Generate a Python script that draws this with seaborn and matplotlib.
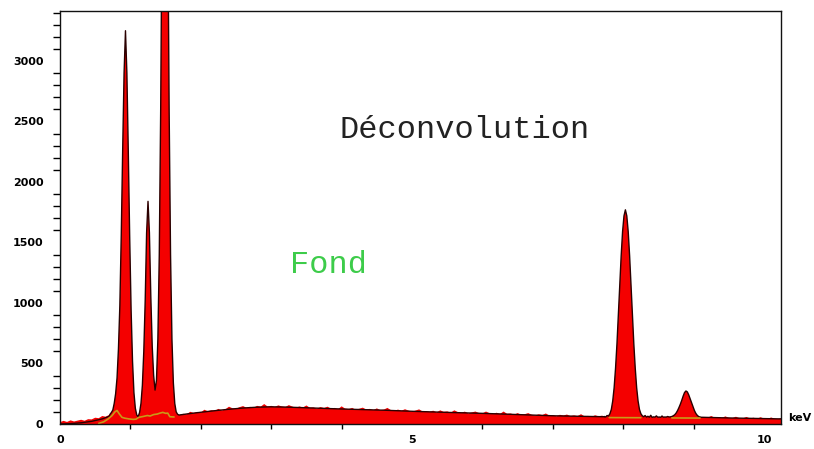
import numpy as np
import matplotlib
matplotlib.use("Agg")
import matplotlib.pyplot as plt
from matplotlib.ticker import MultipleLocator, FixedLocator
import seaborn as sns

# ---------------------------------------------------------------------------
# EDS spectrum (counts per channel), split into channel blocks
# ---------------------------------------------------------------------------
# 0.00 - 0.70 keV, 0.05 keV channels
low_start, low_step = 0.00, 0.05
low_counts = [15, 26, 17, 30, 21, 28, 35, 27, 40, 38, 52, 48, 66, 60, 76]

# 0.71 - 1.69 keV, 0.02 keV channels (O/Cu-L, Mg-K, Al-K lines)
light_start, light_step = 0.71, 0.02
light_counts = [80, 95, 115, 170, 250, 380, 620, 980, 1560, 2260, 2900, 3250,
                2900, 2250, 1540, 940, 520, 260, 130, 75, 60, 95, 170, 320,
                600, 1020, 1580, 1840, 1580, 1050, 640, 400, 280, 360, 700,
                1400, 2600, 4300, 6600, 8000, 6600, 4300, 2600, 1400, 700, 340,
                170, 100, 80, 74]

# 1.75 - 7.70 keV, 0.05 keV channels (bremsstrahlung continuum)
mid_start, mid_step = 1.75, 0.05
mid_counts = [84, 81, 101, 91, 100, 94, 118, 106, 114, 110,
              125, 112, 122, 143, 130, 126, 139, 148, 134, 142,
              134, 150, 143, 165, 144, 150, 140, 154, 145, 140,
              156, 144, 134, 145, 137, 153, 134, 137, 127, 140,
              132, 143, 127, 133, 123, 146, 127, 123, 133, 118,
              126, 135, 120, 125, 115, 129, 115, 119, 133, 115,
              109, 119, 110, 122, 111, 102, 111, 121, 104, 107,
              100, 110, 96, 113, 100, 104, 94, 113, 99, 94,
              102, 88, 96, 103, 91, 88, 103, 90, 83, 93,
              84, 103, 84, 87, 78, 90, 77, 81, 90, 76,
              71, 80, 74, 87, 70, 74, 64, 76, 70, 78,
              65, 71, 65, 81, 63, 67, 60, 72, 64, 69]

# 7.73 - 9.09 keV, 0.02 keV channels (Cu K-alpha and K-beta)
cu_start, cu_step = 7.73, 0.02
cu_counts = [62, 58, 70, 66, 85, 120, 190, 300, 460, 660, 900, 1150, 1390,
             1590, 1720, 1770, 1720, 1590, 1390, 1150, 900, 660, 460, 300, 190,
             120, 85, 68, 60, 70, 57, 64, 56, 72, 55, 59, 57, 67, 56, 58, 55,
             66, 56, 58, 57, 62, 58, 59, 62, 68, 76, 90, 110, 135, 163, 195,
             230, 260, 273, 265, 240, 208, 175, 142, 112, 88, 72, 62, 57]

# 9.15 - 10.25 keV, 0.05 keV channels
tail_start, tail_step = 9.15, 0.05
tail_counts = [58, 53, 66, 52, 57, 50, 63, 51, 49, 60, 48, 47, 58, 46, 52, 44,
               56, 45, 43, 54, 44, 42, 50]

# Smooth continuum of the deconvolution model
fit_low_kev = [0.00, 0.15, 0.30, 0.45, 0.60, 0.70]
fit_low_counts = [0, 3, 10, 22, 42, 64]
fit_mid_kev = [1.69, 1.80, 2.00, 2.20, 2.40, 2.60, 2.80, 3.00, 3.20, 3.40,
               3.60, 3.80, 4.00, 4.30, 4.60, 5.00, 5.50, 6.00, 6.50, 7.00,
               7.50, 7.73]
fit_mid_counts = [74, 83, 97, 110, 122, 132, 139, 142, 140, 136, 132, 128,
                  124, 119, 114, 105, 96, 88, 78, 68, 62, 60]
fit_tail_kev = [9.09, 9.50, 10.00, 10.25]
fit_tail_counts = [56, 50, 45, 42]

# Background ("Fond") under the fitted peaks
fond_light_kev = [0.55, 0.62, 0.68, 0.74, 0.78, 0.81, 0.84, 0.88, 0.92, 0.98,
                  1.04, 1.08, 1.12, 1.18, 1.24, 1.28, 1.33, 1.38, 1.42, 1.46,
                  1.50, 1.53, 1.56, 1.62]
fond_light_counts = [5, 18, 40, 70, 100, 112, 85, 55, 48, 42, 38, 40, 55, 62,
                     70, 66, 78, 82, 90, 96, 88, 90, 60, 58]
fond_cuka_kev = [7.80, 8.25]
fond_cuka_counts = [53, 52]
fond_cukb_kev = [8.69, 9.09]
fond_cukb_counts = [50, 49]


def channels(start, step, counts):
    return list(start + step * np.arange(len(counts)))


light_kev = channels(light_start, light_step, light_counts)
cu_kev = channels(cu_start, cu_step, cu_counts)

spec_kev = (channels(low_start, low_step, low_counts) + light_kev
            + channels(mid_start, mid_step, mid_counts) + cu_kev
            + channels(tail_start, tail_step, tail_counts))
spec_counts = low_counts + light_counts + mid_counts + cu_counts + tail_counts

fit_kev = fit_low_kev + light_kev + fit_mid_kev + cu_kev + fit_tail_kev
fit_counts = fit_low_counts + light_counts + fit_mid_counts + cu_counts + fit_tail_counts

# ---------------------------------------------------------------------------
sns.set_style("white")
plt.rcParams["font.family"] = ["DejaVu Sans"]
plt.rcParams["text.color"] = "black"

fig = plt.figure(figsize=(8.14, 4.49), dpi=100)
ax = fig.add_axes([60 / 814, 1 - 424 / 449, 721 / 814, 413 / 449])

ax.fill_between(spec_kev, spec_counts, 0, color="#f40000", lw=0, zorder=2)
sns.lineplot(x=fit_kev, y=fit_counts, ax=ax, color="#2a0000", lw=1.0,
             estimator=None, sort=False, zorder=3)
for xs, ys in [(fond_light_kev, fond_light_counts),
               (fond_cuka_kev, fond_cuka_counts),
               (fond_cukb_kev, fond_cukb_counts)]:
    sns.lineplot(x=xs, y=ys, ax=ax, color="#c89a18", lw=1.2,
                 estimator=None, sort=False, zorder=4)

ax.set_xlim(0, 10.24)
ax.set_ylim(0, 3413)

ax.xaxis.set_major_locator(FixedLocator([0, 5, 10]))
ax.xaxis.set_minor_locator(MultipleLocator(1))
ax.yaxis.set_major_locator(FixedLocator([0, 500, 1000, 1500, 2000, 2500, 3000]))
ax.yaxis.set_minor_locator(MultipleLocator(100))

ax.tick_params(axis="y", which="major", direction="out", length=10, width=1,
               pad=2, labelsize=8, color="black", labelcolor="black")
ax.tick_params(axis="y", which="minor", direction="out", length=5, width=1,
               color="black", left=True)
ax.tick_params(axis="x", which="major", direction="out", length=6.5, width=1,
               pad=1.5, labelsize=8, color="black", labelcolor="black")
ax.tick_params(axis="x", which="minor", direction="out", length=3.5, width=1,
               color="black", bottom=True)
for lab in ax.get_xticklabels() + ax.get_yticklabels():
    lab.set_fontweight("bold")

for side in ["left", "right", "top", "bottom"]:
    ax.spines[side].set_visible(True)
    ax.spines[side].set_linewidth(1.0)
    ax.spines[side].set_color("#111111")
    ax.spines[side].set_zorder(5)

ax.set_xlabel("")
ax.set_ylabel("")
ax.annotate("keV", xy=(1, 0), xycoords="axes fraction", xytext=(5, 4.3),
            textcoords="offset points", ha="left", va="center",
            fontsize=8, fontweight="bold", color="black", annotation_clip=False)

ax.text(5.75, 2430, "Déconvolution", family="Liberation Mono", fontsize=23,
        color="#222222", ha="center", va="center")
ax.text(3.81, 1314, "Fond", family="Liberation Mono", fontsize=23,
        color="#3dcc4a", ha="center", va="center")

fig.savefig("out.png", dpi=100)
